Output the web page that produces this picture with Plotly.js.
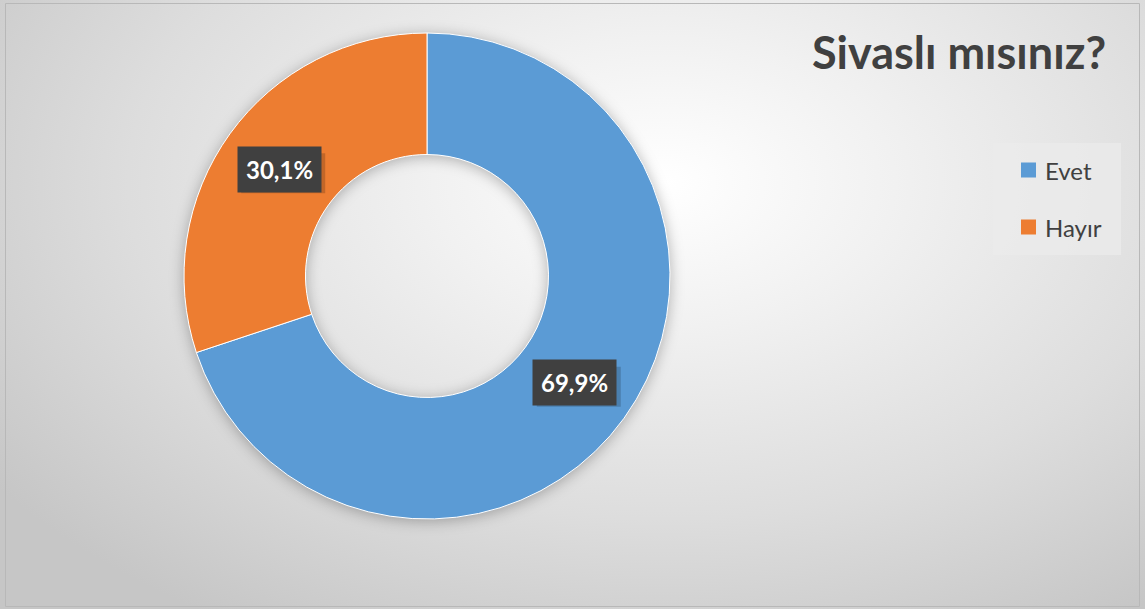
<!DOCTYPE html>
<html><head><meta charset="utf-8">
<script src="https://cdn.plot.ly/plotly-3.0.1.min.js"></script>
<style>
html,body{margin:0;padding:0;}
body{width:1145px;height:609px;overflow:hidden;
background:radial-gradient(ellipse 72% 85% at 58% 30%, #ffffff 0%, #f1f1f1 28%, #dddddd 65%, #c6c6c6 100%);}
#chart{width:1145px;height:609px;}
#chart .pielayer{filter:drop-shadow(0px 2px 7px rgba(0,0,0,0.28));}
</style></head>
<body><div id="chart"></div>
<script>
const categories = ["Evet", "Hayır"];
const values = [69.9, 30.1];
const valueLabels = ["69,9%", "30,1%"];
const colors = ["#5B9BD5", "#ED7D31"];
const chartTitle = "Sivaslı mısınız?";

const W = 1145, H = 609;
const cx = 427, cy = 276, R = 243;
const hole = 0.5;
const domX = [(cx - R) / W, (cx + R) / W];
const domY = [1 - (cy + R) / H, 1 - (cy - R) / H];

const total = values.reduce((a, b) => a + b, 0);
const annotations = [];
const shapes = [];
const fam = 'Lato, "Open Sans", sans-serif';

// data labels at middle of ring, computed from values
let cum = 0;
const rMid = R * (1 + hole) / 2;
const boxHalfW = 42, boxHalfH = 20, shOff = 4;
values.forEach((v, i) => {
  const mid = (cum + v / 2) / total * 2 * Math.PI; // clockwise from top
  cum += v;
  const px = cx + rMid * Math.sin(mid);
  const py = cy - rMid * Math.cos(mid);
  shapes.push({type: 'rect', xref: 'paper', yref: 'paper',
    x0: (px - boxHalfW + shOff) / W, x1: (px + boxHalfW + shOff) / W,
    y0: 1 - (py + boxHalfH + shOff) / H, y1: 1 - (py - boxHalfH + shOff) / H,
    fillcolor: 'rgba(0,0,0,0.18)', line: {width: 0}, layer: 'above'});
  annotations.push({x: px / W, y: 1 - py / H, xref: 'paper', yref: 'paper', xanchor: 'center', yanchor: 'middle',
    text: '<b>' + valueLabels[i] + '</b>', showarrow: false, bgcolor: '#404040', borderpad: 8,
    font: {family: fam, size: 24, color: '#ffffff'}});
});

// title
annotations.push({x: 1108 / W, y: 1 - 52 / H, xref: 'paper', yref: 'paper', xanchor: 'right', yanchor: 'middle',
  text: '<b>' + chartTitle + '</b>', showarrow: false,
  font: {family: fam, size: 45, color: '#404040'}});

// legend box
shapes.push({type: 'rect', xref: 'paper', yref: 'paper', x0: 993 / W, x1: 1121 / W, y0: 1 - 255 / H, y1: 1 - 143 / H,
  fillcolor: 'rgba(235,235,235,0.75)', line: {width: 0}, layer: 'below'});
categories.forEach((c, i) => {
  const yc = 170 + i * 57;
  shapes.push({type: 'rect', xref: 'paper', yref: 'paper', x0: 1021 / W, x1: 1036 / W,
    y0: 1 - (yc + 7.5) / H, y1: 1 - (yc - 7.5) / H, fillcolor: colors[i], line: {width: 0}});
  annotations.push({x: 1043 / W, y: 1 - yc / H, xref: 'paper', yref: 'paper', xanchor: 'left', yanchor: 'middle',
    text: c, showarrow: false, font: {family: fam, size: 24, color: '#404040'}});
});

// frame
shapes.push({type: 'rect', xref: 'paper', yref: 'paper', x0: 5.5 / W, x1: 1139.5 / W, y0: 1 - 606.5 / H, y1: 1 - 3.5 / H,
  line: {color: '#b8b8b8', width: 1}, fillcolor: 'rgba(0,0,0,0)'});

const trace = {
  type: 'pie', labels: categories, values: values, hole: hole, sort: false, direction: 'clockwise', rotation: 0,
  marker: {colors: colors, line: {color: '#ffffff', width: 1}},
  textinfo: 'none', hoverinfo: 'label+percent', domain: {x: domX, y: domY}
};

Plotly.newPlot('chart', [trace], {
  width: W, height: H, margin: {l: 0, r: 0, t: 0, b: 0},
  paper_bgcolor: 'rgba(0,0,0,0)', plot_bgcolor: 'rgba(0,0,0,0)',
  showlegend: false, annotations: annotations, shapes: shapes
}, {displayModeBar: false, staticPlot: true});
</script></body></html>
